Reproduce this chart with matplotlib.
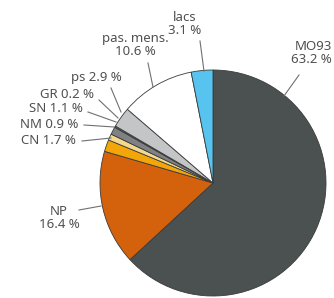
import matplotlib
matplotlib.use("Agg")
import matplotlib.pyplot as plt

labels = ["MO93", "NP", "CN", "NM", "SN", "GR", "ps", "pas. mens.", "lacs"]
values = [63.2, 16.4, 1.7, 0.9, 1.1, 0.2, 2.9, 10.6, 3.1]
colors = ["#4b5051", "#d4620c", "#f2a60a", "#f3d98f", "#7f8183", "#5c5f61",
          "#c4c5c7", "#ffffff", "#57c3ef"]
label_texts = ["MO93\n63.2 %", "NP\n16.4 %", "CN 1.7 %", "NM 0.9 %", "SN 1.1 %",
               "GR 0.2 %", "ps 2.9 %", "pas. mens.\n10.6 %", "lacs\n3.1 %"]

W, H = 334, 298
cx, cy, R = 213, 183, 113

fig = plt.figure(figsize=(W / 100, H / 100), dpi=100)
ax = fig.add_axes([0, 0, 1, 1])

ax.pie(values, colors=colors, startangle=90, counterclock=False, radius=1,
       wedgeprops=dict(edgecolor="#3a3a3a", linewidth=0.6))

ax.set_xlim(-cx / R, (W - cx) / R)
ax.set_ylim(-(H - cy) / R, cy / R)
ax.set_aspect("equal")
ax.axis("off")

def d(px, py):
    return ((px - cx) / R, (cy - py) / R)

# text position (px), ha, line start (px), line end (px)
placements = {
    "MO93": ((332, 53), "right", (299, 75), (284, 96)),
    "NP": ((59, 218), "center", (79, 210), (101, 206)),
    "CN": ((48, 141), "center", (82, 141), (111, 138)),
    "NM": ((49, 125), "center", (84, 125), (114, 127)),
    "SN": ((56, 109), "center", (88, 112), (116, 122)),
    "GR": ((67, 95), "center", (99, 100), (118, 118)),
    "ps": ((96, 78), "center", (111, 88), (121, 112)),
    "pas. mens.": ((135, 45), "center", (148, 63), (153, 87)),
    "lacs": ((185, 24), "center", (200, 41), (204, 71)),
}

for lab, txt in zip(labels, label_texts):
    (tx, ty), ha, p0, p1 = placements[lab]
    ax.text(*d(tx, ty), txt, ha=ha, va="center", multialignment=ha,
            fontsize=9.5, color="#505050", family="Noto Sans",
            linespacing=1.05)
    x0, y0 = d(*p0)
    x1, y1 = d(*p1)
    ax.plot([x0, x1], [y0, y1], color="#707070", linewidth=0.8)

fig.savefig("out.png", dpi=100)
